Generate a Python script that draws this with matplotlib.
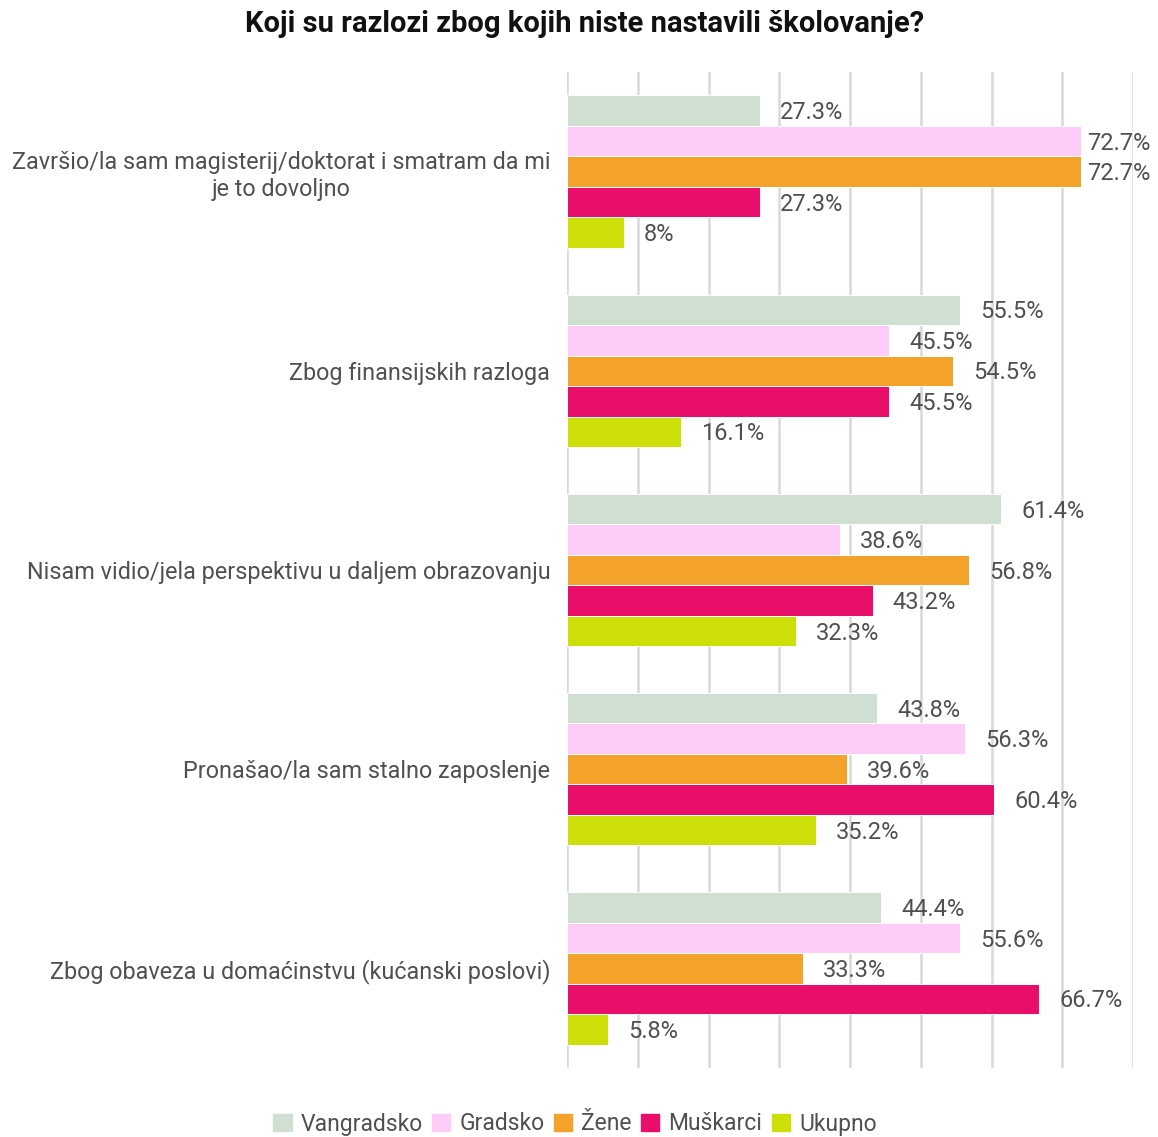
import matplotlib
matplotlib.use("Agg")
import matplotlib.pyplot as plt
import numpy as np

plt.rcParams['font.family'] = ['Liberation Sans Narrow', 'DejaVu Sans Condensed', 'Roboto', 'DejaVu Sans']

title = "Koji su razlozi zbog kojih niste nastavili školovanje?"
categories = [
    "Završio/la sam magisterij/doktorat i smatram da mi\nje to dovoljno",
    "Zbog finansijskih razloga",
    "Nisam vidio/jela perspektivu u daljem obrazovanju",
    "Pronašao/la sam stalno zaposlenje",
    "Zbog obaveza u domaćinstvu (kućanski poslovi)",
]
series_names = ["Vangradsko", "Gradsko", "Žene", "Muškarci", "Ukupno"]
vangradsko = [27.3, 55.5, 61.4, 43.8, 44.4]
gradsko = [72.7, 45.5, 38.6, 56.3, 55.6]
zene = [72.7, 54.5, 56.8, 39.6, 33.3]
muskarci = [27.3, 45.5, 43.2, 60.4, 66.7]
ukupno = [8, 16.1, 32.3, 35.2, 5.8]
series = [vangradsko, gradsko, zene, muskarci, ukupno]
colors = ["#cfe0d3", "#fdcdf7", "#f3a22a", "#e80e69", "#cddf09"]

W, H = 1158, 1137
fig = plt.figure(figsize=(W / 100, H / 100), dpi=100)
ax = fig.add_axes([567 / W, 1 - 1068 / H, (1133 - 567) / W, (1068 - 72) / H])

n_cat = len(categories)
bar_h = 0.153
y_centers = np.arange(n_cat)
text_color = "#505050"
for si, (vals, col) in enumerate(zip(series, colors)):
    ys = y_centers + (si - 2) * bar_h
    ax.barh(ys, vals, height=bar_h, color=col, edgecolor="white", linewidth=0.7, zorder=3)
    for y, v in zip(ys, vals):
        off = 4.5 if v > 70 else 14.5
        ax.annotate(f"{v:g}%", xy=(v, y), xytext=(off, -1.5), textcoords="offset points",
                    ha="left", va="center", fontsize=17, color=text_color, zorder=4)

ax.set_xlim(0, 80)
ax.set_ylim(n_cat - 0.5, -0.5)
ax.set_xticks(np.arange(0, 81, 10))
ax.xaxis.grid(True, color="#d9d9d9", linewidth=1.8, zorder=0)
ax.tick_params(axis="x", length=0, labelbottom=False)
ax.tick_params(axis="y", length=0, pad=12)
ax.set_yticks(y_centers)
ax.set_yticklabels(categories, fontsize=16.8, color=text_color, multialignment="center")
for s in ax.spines.values():
    s.set_visible(False)
ax.set_axisbelow(True)

fig.text(585 / W, 1 - 24 / H, title, ha="center", va="center", fontsize=21,
         fontweight="bold", color="#111111")

handles = [plt.Rectangle((0, 0), 1, 1, color=c) for c in colors]
leg = fig.legend(handles, series_names, loc="center", bbox_to_anchor=(575 / W, 1 - 1124 / H),
                 ncol=5, frameon=False, fontsize=16.5, handlelength=0.8, handleheight=0.8,
                 handletextpad=0.4, columnspacing=0.4)
for t in leg.get_texts():
    t.set_color(text_color)

fig.savefig("out.png", dpi=100)
